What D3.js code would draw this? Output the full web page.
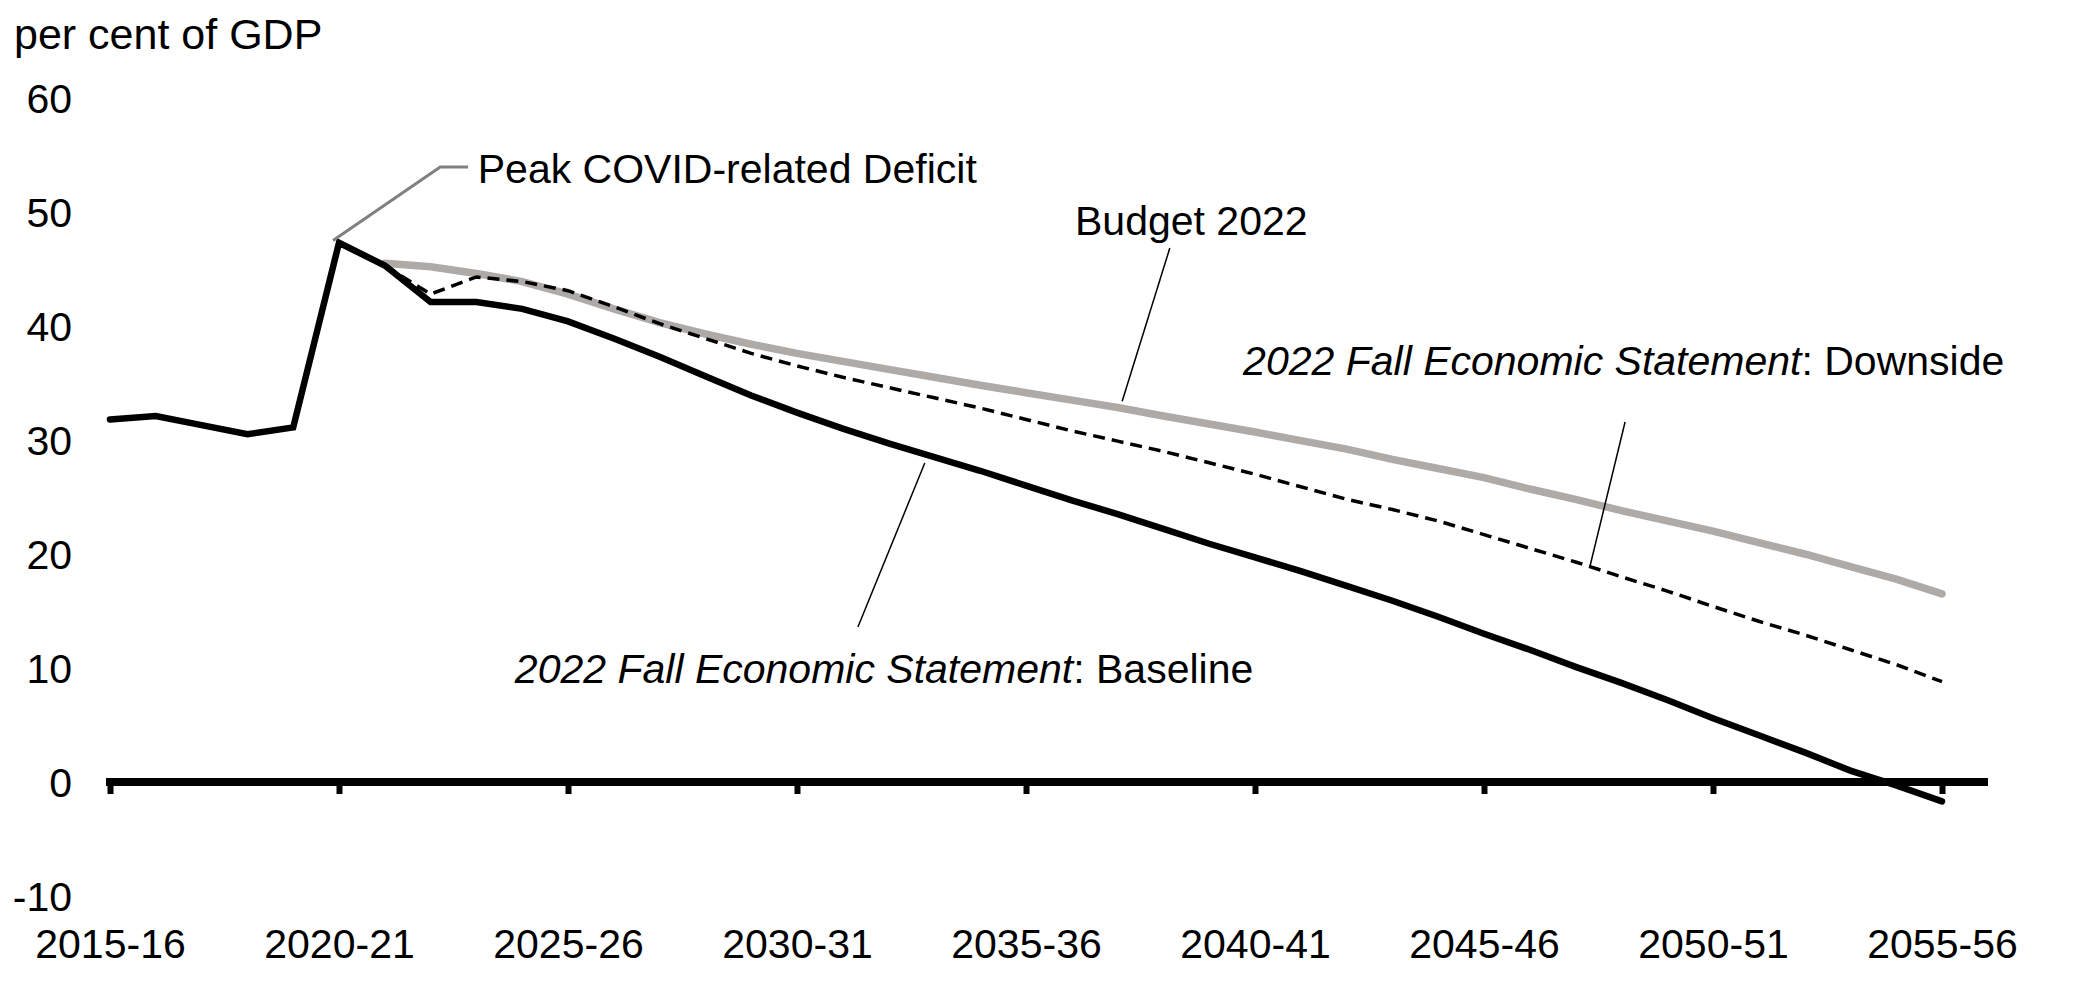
<!DOCTYPE html>
<html>
<head>
<meta charset="utf-8">
<script src="https://cdn.jsdelivr.net/npm/d3@7"></script>
<style>
  body { margin: 0; background: #fff; }
  svg { display: block; font-family: Arial, 'Liberation Sans', sans-serif; }
</style>
</head>
<body>
<svg></svg>
<script>
'use strict';

const svgWidth = 2091;
const svgHeight = 1004;

// fiscal years, 2015-16 .. 2055-56
const years = d3.range(2015, 2056).map(y => y + '-' + String((y + 1) % 100).padStart(2, '0'));

// 2022 Fall Economic Statement: Baseline
const baseline = [
  31.8, 32.1, 31.3, 30.5, 31.1, 47.3, 45.3, 42.1, 42.1, 41.5,
  40.4, 38.9, 37.3, 35.6, 33.9, 32.4, 31.0, 29.7, 28.5, 27.3,
  26.0, 24.7, 23.5, 22.2, 20.9, 19.7, 18.5, 17.2, 15.9, 14.5,
  13.0, 11.6, 10.1, 8.7, 7.2, 5.6, 4.1, 2.6, 1.0, -0.3,
  -1.7
];

// Budget 2022 (starts 2021-22)
const budget2022 = [
  null, null, null, null, null, null, 45.5, 45.2, 44.6, 43.9,
  42.8, 41.5, 40.3, 39.3, 38.4, 37.6, 36.9, 36.2, 35.5, 34.8,
  34.15, 33.5, 32.85, 32.1, 31.4, 30.7, 29.95, 29.2, 28.3, 27.5,
  26.7, 25.7, 24.8, 23.8, 22.9, 22.0, 21.0, 20.0, 18.9, 17.8,
  16.5
];

// 2022 Fall Economic Statement: Downside (starts 2021-22)
const downside = [
  null, null, null, null, null, null, 45.3, 42.8, 44.3, 43.9,
  43.1, 41.7, 40.2, 38.9, 37.6, 36.5, 35.5, 34.6, 33.7, 32.8,
  31.8, 30.8, 29.9, 29.0, 28.0, 27.0, 25.9, 24.8, 23.9, 22.9,
  21.7, 20.5, 19.3, 18.0, 16.75, 15.4, 14.1, 12.9, 11.6, 10.3,
  8.8
];

const yTicks = [-10, 0, 10, 20, 30, 40, 50, 60];
const xTickIdx = [0, 5, 10, 15, 20, 25, 30, 35, 40];

const svg = d3.select('svg')
  .attr('width', svgWidth)
  .attr('height', svgHeight);

const x = d3.scaleLinear().domain([0, years.length - 1]).range([110, 1942]);
const y = d3.scaleLinear().domain([-10, 60]).range([896, 98]);

// unit label
svg.append('text')
  .attr('x', 14)
  .attr('y', 49)
  .attr('font-size', 43)
  .text('per cent of GDP');

// y axis labels (plain hyphen for the minus, as in the source)
const yAxis = svg.append('g')
  .attr('transform', 'translate(72,0)')
  .call(d3.axisLeft(y).tickValues(yTicks).tickFormat(d => String(d))
    .tickSize(0).tickPadding(0));
yAxis.select('.domain').remove();
yAxis.selectAll('text')
  .attr('font-size', 41)
  .attr('font-family', null)
  .attr('fill', '#000')
  .attr('dy', '0.36em');

// x axis: ticks hang from the zero line, labels sit at the bottom
const xAxis = svg.append('g')
  .attr('transform', `translate(0,${y(0)})`)
  .call(d3.axisBottom(x).tickValues(xTickIdx).tickFormat(i => years[i])
    .tickSizeInner(12).tickSizeOuter(0).tickPadding(135));
xAxis.select('.domain').remove();
xAxis.selectAll('.tick line')
  .attr('stroke', '#000')
  .attr('stroke-width', 6);
xAxis.selectAll('text')
  .attr('font-size', 41)
  .attr('font-family', null)
  .attr('fill', '#000');

svg.append('line')
  .attr('x1', x(0) - 4)
  .attr('x2', 1988)
  .attr('y1', y(0))
  .attr('y2', y(0))
  .attr('stroke', '#000')
  .attr('stroke-width', 8);

const line = d3.line()
  .defined(d => d != null)
  .x((d, i) => x(i))
  .y(d => y(d));

svg.append('path')
  .datum(budget2022)
  .attr('fill', 'none')
  .attr('stroke', '#adaaa8')
  .attr('stroke-width', 7.5)
  .attr('stroke-linecap', 'round')
  .attr('d', line);

svg.append('path')
  .datum(downside)
  .attr('fill', 'none')
  .attr('stroke', '#000')
  .attr('stroke-width', 3.5)
  .attr('stroke-dasharray', '12 7')
  .attr('d', line);

svg.append('path')
  .datum(baseline)
  .attr('fill', 'none')
  .attr('stroke', '#000')
  .attr('stroke-width', 6.5)
  .attr('stroke-linejoin', 'miter')
  .attr('stroke-linecap', 'round')
  .attr('d', line);

// annotations, in data units (year index, per cent of GDP)
const leaders = [
  { pts: [[4.87, 47.5], [7.21, 53.95], [7.82, 53.95]], color: '#808080', width: 3 },
  { pts: [[22.1, 33.4], [23.14, 46.84]], color: '#000', width: 1.5 },
  { pts: [[32.31, 18.86], [33.08, 31.58]], color: '#000', width: 1.5 },
  { pts: [[17.79, 27.98], [16.33, 13.6]], color: '#000', width: 1.5 }
];

const leaderLine = d3.line().x(d => x(d[0])).y(d => y(d[1]));

svg.append('g')
  .selectAll('path')
  .data(leaders)
  .join('path')
  .attr('fill', 'none')
  .attr('stroke', d => d.color)
  .attr('stroke-width', d => d.width)
  .attr('d', d => leaderLine(d.pts));

const labels = [
  { at: [8.03, 52.54], parts: [['Peak COVID-related Deficit', false]] },
  { at: [21.07, 47.98], parts: [['Budget 2022', false]] },
  { at: [24.74, 35.7], parts: [['2022 Fall Economic Statement', true], [': Downside', false]] },
  { at: [8.84, 8.68], parts: [['2022 Fall Economic Statement', true], [': Baseline', false]] }
];

svg.append('g')
  .selectAll('text')
  .data(labels)
  .join('text')
  .attr('x', d => x(d.at[0]))
  .attr('y', d => y(d.at[1]))
  .attr('font-size', 41)
  .selectAll('tspan')
  .data(d => d.parts)
  .join('tspan')
  .attr('font-style', d => d[1] ? 'italic' : null)
  .text(d => d[0]);
</script>
</body>
</html>
